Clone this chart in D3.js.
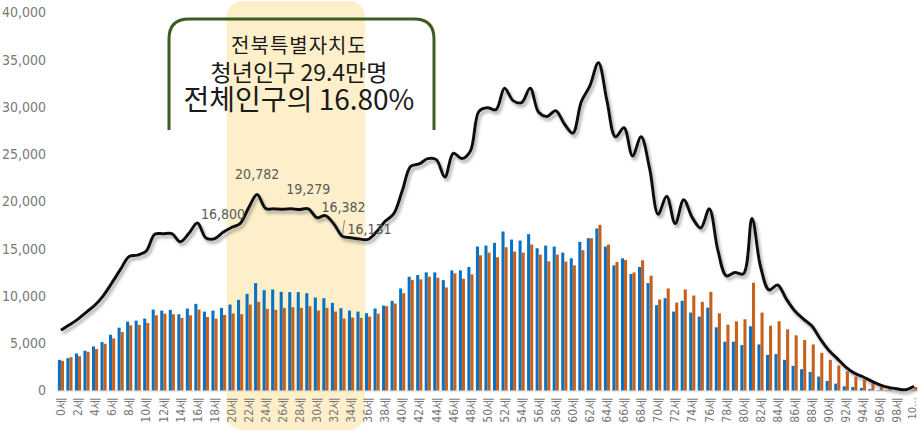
<!DOCTYPE html>
<html>
<head>
<meta charset="utf-8">
<script src="https://cdn.jsdelivr.net/npm/d3@7"></script>
<style>
  body { margin: 0; background: #fff; }
  svg { display: block; }
</style>
</head>
<body>
<div id="container"></div>
<script>
// 연령 (0세 ~ 100세)
const ages = d3.range(0, 101);

// 남자 (파랑)
const male = [
  3245, 3422, 3918, 4202, 4663, 5124, 5904, 6649, 7287, 7394,
  7606, 8564, 8457, 8528, 8067, 8670, 9167, 8351, 8457, 8741,
  9096, 9592, 10230, 11365, 10621, 10691, 10443, 10408, 10408, 10301,
  9840, 9770, 9273, 8706, 8457, 8351, 8174, 8670, 8989, 9486,
  10798, 12039, 12216, 12500, 12500, 11684, 12713, 12713, 13067, 15230,
  15337, 15620, 16826, 15975, 15869, 16543, 15053, 15337, 15230, 14592,
  13989, 15727, 16117, 17145, 15230, 13245, 13989, 12323, 13067, 11365,
  9025, 9770, 8351, 9486, 8245, 7819, 8777, 6684, 5160, 5160,
  4805, 6791, 4876, 3777, 3848, 3245, 2606, 2252, 1968, 1471,
  1011, 727, 443, 372, 266, 160, 53, 30, 15, 10,
  80
];

// 여자 (주황)
const female = [
  3138, 3528, 3635, 4096, 4380, 4947, 5514, 6188, 6897, 6933,
  7145, 7961, 8138, 8067, 7677, 7961, 8564, 7784, 7606, 7997,
  8150, 8067, 9096, 9379, 8635, 8528, 8741, 8812, 8741, 8918,
  8457, 8741, 8351, 7606, 7713, 7677, 7819, 8138, 8918, 9202,
  10301, 11684, 11755, 12039, 11933, 10904, 12394, 11826, 12287, 14309,
  14592, 14096, 15160, 14699, 14592, 15443, 14379, 13670, 14379, 13635,
  13245, 14840, 16117, 17535, 15443, 13599, 13812, 12500, 13777, 12145,
  9628, 10798, 9309, 10691, 10053, 9379, 10443, 8174, 6968, 7323,
  7535, 11401, 8245, 6862, 7323, 6472, 5833, 5337, 4876, 3989,
  3245, 2642, 2039, 1471, 1188, 833, 550, 301, 160, 80,
  370
];

// 전체 (합계)
const total = ages.map((a, i) => male[i] + female[i]);

// 눈금 라벨
const yTicks = [0, 5000, 10000, 15000, 20000, 25000, 30000, 35000, 40000];
const xTickAges = ages.filter(a => a % 2 === 0);
const xTickLabels = xTickAges.map(a => a === 100 ? "10…" : a + "세");

// 강조 라벨
const noteAges = [19, 23, 29, 33, 35];
const noteTexts = ["16,800", "20,782", "19,279", "16,382", "16,131"];

// 청년 구간
const youthRange = [20, 35];

const titleLines = ["전북특별자치도", "청년인구 29.4만명", "전체인구의 16.80%"];

const WIDTH = 919, HEIGHT = 431;
const NARROW = "'Liberation Sans Narrow', 'Arial Narrow', 'DejaVu Sans Condensed', sans-serif";
const KR = "'Noto Sans CJK KR', 'Noto Sans', sans-serif";

const svg = d3.select('#container').append('svg')
    .attr("width", WIDTH).attr("height", HEIGHT);

const defs = svg.append("defs");
const shadow = defs.append("filter").attr("id", "shadow")
    .attr("x", "-5%").attr("y", "-5%").attr("width", "110%").attr("height", "120%");
shadow.append("feDropShadow")
    .attr("dx", 2).attr("dy", 3).attr("stdDeviation", 1.5)
    .attr("flood-color", "#777").attr("flood-opacity", 0.6);

const xScale = d3.scaleBand()
    .domain(ages)
    .range([57, 918])
    .paddingInner(0.28)
    .paddingOuter(0.1);

const subScale = d3.scaleBand()
    .domain(["m", "f"])
    .range([0, xScale.bandwidth()]);

const yScale = d3.scaleLinear()
    .domain([0, 40000])
    .range([390.5, 12.5]);

// 청년 구간 배경
const step = xScale.step();
svg.append("rect")
    .attr("x", xScale(youthRange[0]) - 2)
    .attr("width", xScale(youthRange[1]) + step - xScale(youthRange[0]) + 2)
    .attr("y", 1)
    .attr("height", 429)
    .attr("rx", 16)
    .attr("fill", "#fdefc9");

// y축 라벨
const yAxis = d3.axisLeft(yScale)
    .tickValues(yTicks)
    .tickFormat(d3.format(","))
    .tickSize(0)
    .tickPadding(0);

svg.append("g")
    .attr("transform", "translate(46,0)")
    .call(yAxis)
    .call(g => g.select(".domain").remove())
    .selectAll("text")
    .attr("fill", "#7a7a7a")
    .style("font-family", NARROW)
    .style("font-size", "14px");

// 기준선
svg.append("line")
    .attr("x1", 57).attr("x2", 918)
    .attr("y1", 391).attr("y2", 391)
    .attr("stroke", "#d9d9d9").attr("stroke-width", 1);

// 막대
const groups = svg.append("g")
    .selectAll("g")
    .data(ages)
    .join("g")
    .attr("transform", d => `translate(${xScale(d)},0)`);

groups.append("rect")
    .attr("x", subScale("m"))
    .attr("width", subScale.bandwidth())
    .attr("y", (d, i) => yScale(male[i]))
    .attr("height", (d, i) => yScale(0) - yScale(male[i]))
    .attr("fill", "#0a72c4");

groups.append("rect")
    .attr("x", subScale("f"))
    .attr("width", subScale.bandwidth())
    .attr("y", (d, i) => yScale(female[i]))
    .attr("height", (d, i) => yScale(0) - yScale(female[i]))
    .attr("fill", "#c8601a");

// x축 라벨
const xAxis = d3.axisBottom(xScale)
    .tickValues(xTickAges)
    .tickFormat((d, i) => xTickLabels[i])
    .tickSize(0)
    .tickPadding(0);

svg.append("g")
    .attr("transform", "translate(0,397)")
    .call(xAxis)
    .call(g => g.select(".domain").remove())
    .selectAll("text")
    .attr("transform", "rotate(-90)")
    .attr("x", 0)
    .attr("y", (d) => d === 100 ? -2 : 0)
    .attr("dy", "0.35em")
    .attr("text-anchor", "end")
    .attr("fill", "#7a7a7a")
    .style("font-family", NARROW)
    .style("font-size", d => d === 100 ? "11px" : "12px");

// 전체 인구 곡선
const cx = d => xScale(d) + xScale.bandwidth() / 2;
const line = d3.line()
    .x(d => cx(d))
    .y((d, i) => yScale(total[i]))
    .curve(d3.curveCatmullRom.alpha(0.5));

svg.append("path")
    .datum(ages)
    .attr("d", line)
    .attr("fill", "none")
    .attr("stroke", "#111")
    .attr("stroke-width", 3)
    .attr("stroke-linejoin", "round")
    .attr("filter", "url(#shadow)");

// 값 라벨
const noteOffsets = [[0, -13], [0, -15], [0, -15], [1, -24], [5, -5]];
svg.append("g")
    .selectAll("text")
    .data(noteAges)
    .join("text")
    .attr("x", (d, i) => cx(d) + noteOffsets[i][0])
    .attr("y", (d, i) => yScale(total[ages.indexOf(d)]) + noteOffsets[i][1])
    .attr("text-anchor", (d, i) => i === 4 ? "start" : "middle")
    .attr("dx", (d, i) => i === 4 ? -17 : 0)
    .attr("fill", "#5a5a5a")
    .style("font-family", NARROW)
    .style("font-size", "14px")
    .text((d, i) => noteTexts[i]);

svg.append("line")
    .attr("x1", 344.5).attr("y1", 220)
    .attr("x2", 342.5).attr("y2", 235)
    .attr("stroke", "#888").attr("stroke-width", 1);

// 제목 박스
const bx0 = 169, bx1 = 434, by0 = 19, by1 = 130, r = 20;
svg.append("path")
    .attr("d", `M${bx0},${by1} V${by0 + r} Q${bx0},${by0} ${bx0 + r},${by0} H${bx1 - r} Q${bx1},${by0} ${bx1},${by0 + r} V${by1}`)
    .attr("fill", "none")
    .attr("stroke", "#3e5c22")
    .attr("stroke-width", 3);

const titleY = [53, 81, 110];
const titleSize = [20, 23, 28];
svg.append("g")
    .selectAll("text")
    .data(titleLines)
    .join("text")
    .attr("x", 299)
    .attr("y", (d, i) => titleY[i])
    .attr("text-anchor", "middle")
    .attr("fill", "#1a1a1a")
    .style("font-family", KR)
    .style("font-size", (d, i) => titleSize[i] + "px")
    .style("letter-spacing", (d, i) => i === 0 ? "1px" : "0px")
    .text(d => d);
</script>
</body>
</html>
